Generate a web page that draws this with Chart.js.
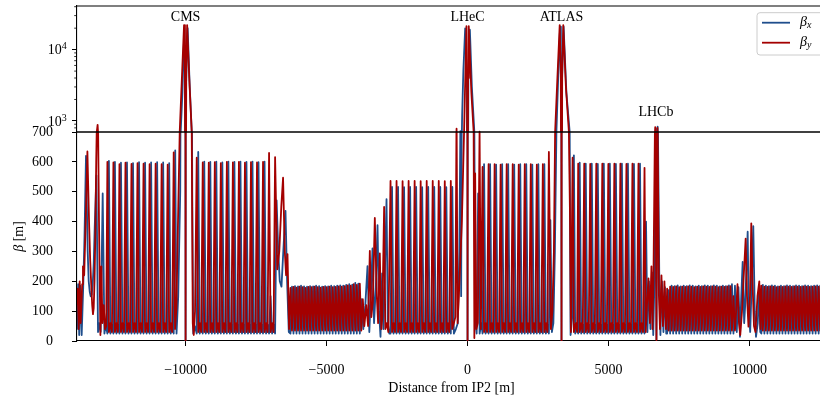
<!DOCTYPE html>
<html>
<head>
<meta charset="utf-8">
<script src="https://cdn.jsdelivr.net/npm/chart.js@4.4.1/dist/chart.umd.min.js"></script>
<style>
html, body { margin: 0; padding: 0; overflow: hidden; background: #fff; }
#wrap { width: 832px; height: 398px; }
</style>
</head>
<body>
<div id="wrap"><canvas id="chart_beta" width="832" height="398"></canvas></div>
<script>
var HALF_CELL = 53.45   // m, half of an arc FODO cell

// arcs with beta-beating: s of the first beta_y spike [m] and spike heights [m]
var arc_start = [-12773, -9605, -2732, 532, 3924]
var arc_peak_x = [
    [603, 600, 597, 598, 596, 599, 597, 598, 599, 598, 596, 638],
    [633, 601, 600, 601, 598, 601, 600, 601, 600, 601, 599, 601, 150, 471],
    [516, 516, 515, 516, 516, 515, 516, 516, 516, 515, 516],
    [592, 592, 591, 592, 592, 591, 592, 592, 591, 592, 592, 405],
    [597, 594, 594, 593, 594, 594, 593, 594, 594, 593, 594, 400]
]
var arc_peak_y = [
    [600, 598, 592, 597, 593, 596, 594, 592, 594, 592, 591, 632],
    [614, 598, 597, 599, 596, 600, 598, 600, 597, 599, 598, 600, 630, 616],
    [536, 536, 535, 536, 536, 535, 536, 536, 536, 535, 536],
    [583, 592, 592, 591, 592, 592, 591, 592, 592, 591, 592, 633],
    [594, 594, 593, 594, 594, 593, 594, 594, 593, 594, 594, 580]
]
var arc_low_x = [25, 55]   // trough, small bump between spikes
var arc_low_y = [30, 60]

// regular arcs: s of the first cell [m] and peak per cell [m]
var fodo_start = [-6280, 7078, 10420]
var fodo_peak_x = [
    [182, 184, 183, 185, 183, 182, 184, 183, 185, 184, 182, 184, 183, 185, 184, 185, 186, 185, 188, 190, 189, 195, 192, 140],
    [170, 185, 184, 186, 183, 185, 184, 186, 185, 183, 185, 184, 186, 185, 184, 186, 185, 183, 185, 184, 186, 190, 185],
    [188, 185, 184, 186, 185, 183, 185, 184, 186, 185, 184, 186, 185, 184, 186, 185, 184, 185, 186, 185, 184, 186, 185]
]
var fodo_peak_y = [
    [178, 181, 179, 182, 180, 178, 181, 180, 182, 180, 179, 181, 180, 182, 180, 181, 183, 182, 184, 186, 185, 190, 188, 192],
    [175, 182, 181, 183, 180, 182, 181, 183, 182, 180, 182, 181, 183, 182, 181, 183, 182, 180, 182, 181, 183, 184, 150],
    [185, 182, 181, 183, 182, 180, 182, 181, 183, 182, 181, 183, 182, 181, 183, 182, 181, 182, 183, 182, 181, 183, 182]
]
var fodo_trough_x = 25
var fodo_trough_y = 35

// insertion regions, [s, beta]
var ir_x = [
    [-13900, 60], [-13851, 40], [-13809, 190], [-13773, 20], [-13738, 185], [-13685, 20], [-13631, 180],
    [-13585, 350], [-13532, 620], [-13500, 450], [-13472, 300], [-13436, 200], [-13400, 165], [-13365, 150],
    [-13330, 155], [-13294, 190], [-13258, 260], [-13223, 380], [-13188, 480], [-13163, 555], [-13106, 30],
    [-13064, 60], [-13011, 30], [-12940, 494], [-12879, 25], [-12833, 55],
    [-10321, 25], [-10261, 150], [-10190, 500], [-10112, 2500], [-10044, 20000], [-10019, 3500], [-10000, 0.5],
    [-9981, 3500], [-9927, 20000], [-9853, 3000], [-9764, 500], [-9729, 25], [-9675, 50],
    [-6713, 300], [-6660, 200], [-6599, 182], [-6535, 300], [-6457, 436], [-6400, 200], [-6340, 30],
    [-3697, 40], [-3626, 120], [-3548, 251], [-3484, 30], [-3431, 150], [-3371, 310], [-3317, 60], [-3253, 180],
    [-3193, 388], [-3140, 100], [-3087, 14], [-3030, 226], [-2984, 40], [-2927, 250], [-2874, 475], [-2828, 60],
    [-2775, 25],
    [-486, 25], [-415, 40], [-344, 60], [-291, 300], [-255, 720], [-227, 150], [-192, 1200], [-149, 5000],
    [-85, 19800], [-28, 4000], [0, 0.5], [28, 4000], [82, 19000], [153, 3000], [241, 700], [277, 60], [323, 25],
    [376, 494], [429, 25], [490, 60],
    [2991, 30], [3044, 60], [3097, 300], [3151, 700], [3222, 5000], [3282, 21000], [3310, 4000], [3332, 0.5],
    [3353, 4000], [3406, 21000], [3505, 2500], [3622, 700], [3654, 20], [3711, 80], [3771, 622], [3818, 25],
    [3871, 55],
    [6379, 30], [6432, 200], [6486, 40], [6539, 230], [6585, 20], [6628, 200], [6674, 780], [6699, 5],
    [6741, 830], [6798, 230], [6840, 20], [6894, 200], [6947, 30], [7000, 180], [7046, 25],
    [9548, 30], [9608, 180], [9661, 14], [9707, 150], [9757, 265], [9810, 60], [9846, 120], [9934, 366],
    [9973, 100], [10023, 30], [10080, 200], [10133, 385], [10186, 100], [10229, 14], [10292, 60], [10335, 180],
    [10381, 30]
]
var ir_y = [
    [-13900, 100], [-13851, 150], [-13827, 175], [-13791, 40], [-13756, 200], [-13720, 60], [-13667, 190],
    [-13639, 250], [-13596, 220], [-13543, 400], [-13482, 635], [-13454, 520], [-13418, 380], [-13383, 270],
    [-13347, 190], [-13312, 120], [-13284, 90], [-13259, 110], [-13230, 200], [-13202, 350], [-13170, 600],
    [-13120, 880], [-13071, 400], [-13021, 20], [-12986, 250], [-12950, 60], [-12904, 120], [-12858, 40],
    [-12815, 50],
    [-10374, 40], [-10325, 110], [-10268, 405], [-10208, 700], [-10137, 3500], [-10055, 22100], [-10023, 4500],
    [-10000, 0.5], [-9977, 4500], [-9945, 22100], [-9870, 4000], [-9782, 700], [-9746, 60], [-9711, 20],
    [-9665, 100],
    [-6748, 240], [-6677, 300], [-6606, 450], [-6543, 547], [-6482, 300], [-6436, 220], [-6386, 291], [-6330, 40],
    [-3715, 140], [-3662, 50], [-3591, 120], [-3527, 50], [-3466, 302], [-3413, 80], [-3360, 130], [-3289, 412],
    [-3218, 150], [-3172, 60], [-3112, 293], [-3058, 40], [-3023, 80], [-2959, 449], [-2916, 40], [-2863, 60],
    [-2810, 30],
    [-546, 40], [-486, 60], [-433, 80], [-390, 780], [-355, 60], [-309, 150], [-202, 400], [-124, 700],
    [-39, 21300], [-18, 4000], [0, 0.5], [18, 4000], [43, 21300], [135, 2500], [216, 700], [241, 10], [270, 561],
    [312, 40], [365, 60], [426, 706], [472, 40],
    [2955, 40], [3009, 100], [3062, 300], [3105, 700], [3186, 4000], [3268, 22100], [3307, 4500], [3332, 0.5],
    [3356, 4500], [3395, 22100], [3488, 3000], [3594, 700], [3630, 438], [3665, 30], [3725, 614], [3771, 30],
    [3842, 60], [3885, 30],
    [6319, 30], [6362, 120], [6415, 210], [6468, 60], [6521, 250], [6557, 40], [6592, 200], [6656, 820],
    [6699, 3], [6734, 800], [6787, 150], [6823, 40], [6876, 220], [6929, 50], [6982, 200], [7036, 40],
    [9537, 120], [9573, 190], [9626, 60], [9672, 20], [9733, 100], [9796, 220], [9863, 343], [9910, 150],
    [9963, 48], [10016, 150], [10062, 394], [10105, 200], [10158, 50], [10211, 30], [10282, 150], [10346, 200],
    [10389, 40]
]

var ip_names = ['CMS', 'LHeC', 'ATLAS', 'LHCb']
var ip_s = [-10000, 0, 3332, 6680]
var ip_label_beta = [28600, 28600, 28600, 1340]

var x_ticks = [-10000, -5000, 0, 5000, 10000]
var log_major = [1000, 10000]
var log_minor = [800, 900, 2000, 3000, 4000, 5000, 6000, 7000, 8000, 9000, 20000, 30000, 40000]
var legend_subs = ['x', 'y']

var COLOR_X = '#1f4e8c'
var COLOR_Y = '#a40000'
var FONT = '"Liberation Serif", "Times New Roman", serif'

function beta_points(plane) {
    var h = HALF_CELL
    var pts = []
    var arc_peak = plane == 'x' ? arc_peak_x : arc_peak_y
    var arc_low = plane == 'x' ? arc_low_x : arc_low_y
    arc_start.forEach(function (s0, a) {
        var n = arc_peak[a].length
        arc_peak[a].forEach(function (peak, k) {
            var s = s0 + 4 * h * k
            var last = (k == n - 1)
            if (plane == 'x') {
                pts.push({x: s, y: arc_low[0]}, {x: s + h, y: peak})
                if (!last) pts.push({x: s + 2 * h, y: arc_low[0]}, {x: s + 3 * h, y: arc_low[1]})
            } else {
                pts.push({x: s, y: peak})
                if (!last) pts.push({x: s + h, y: arc_low[0]}, {x: s + 2 * h, y: arc_low[1]}, {x: s + 3 * h, y: arc_low[0]})
            }
        })
    })
    var fodo_peak = plane == 'x' ? fodo_peak_x : fodo_peak_y
    var trough = plane == 'x' ? fodo_trough_x : fodo_trough_y
    fodo_start.forEach(function (s0, a) {
        fodo_peak[a].forEach(function (peak, j) {
            var s = s0 + 2 * h * j
            if (plane == 'x') {
                pts.push({x: s, y: trough}, {x: s + h, y: peak})
            } else {
                pts.push({x: s, y: peak}, {x: s + h, y: trough})
            }
        })
    })
    var ir = plane == 'x' ? ir_x : ir_y
    ir.forEach(function (p) {
        pts.push({x: p[0], y: p[1]})
    })
    pts.sort(function (a, b) { return a.x - b.x })
    return pts
}

var pts_x = beta_points('x')
var pts_y = beta_points('y')

function copy(pts) {
    return pts.map(function (p) { return {x: p.x, y: p.y} })
}

// no extra room for tick labels that hang over the scale ends
function fit_scale(scale, size) {
    if (scale.isHorizontal()) {
        scale.height = size
    } else {
        scale.width = size
    }
    scale.paddingTop = 0
    scale.paddingBottom = 0
    scale.paddingLeft = 0
    scale.paddingRight = 0
}

// each panel of the broken axis only shows its own part of the curves
var beta_layers = {
    id: 'beta_layers',
    beforeDatasetDraw: function (chart, args) {
        var area = chart.chartArea
        var scale = chart.scales[args.meta.yAxisID]
        var ctx = chart.ctx
        ctx.save()
        ctx.beginPath()
        ctx.rect(area.left, scale.top, area.right - area.left, scale.bottom - scale.top)
        ctx.clip()
    },
    afterDatasetDraw: function (chart) {
        chart.ctx.restore()
    },
    afterDatasetsDraw: function (chart) {
        var ctx = chart.ctx
        var area = chart.chartArea
        var xs = chart.scales.x
        var y_lin = chart.scales.yLin
        var y_log = chart.scales.yLog
        ctx.save()

        ctx.strokeStyle = '#000'
        ctx.lineWidth = 1.1
        ctx.beginPath()
        ctx.moveTo(area.left, area.top)
        ctx.lineTo(area.right, area.top)
        ctx.lineTo(area.right, area.bottom)
        ctx.stroke()
        ctx.lineWidth = 1.4
        ctx.beginPath()
        ctx.moveTo(area.left, y_lin.top)
        ctx.lineTo(area.right, y_lin.top)
        ctx.stroke()

        ctx.lineWidth = 0.8
        ctx.beginPath()
        log_minor.forEach(function (v) {
            var y = y_log.getPixelForValue(v)
            ctx.moveTo(area.left - 2.8, y)
            ctx.lineTo(area.left, y)
        })
        ctx.stroke()

        ctx.fillStyle = '#000'
        ctx.textAlign = 'right'
        ctx.textBaseline = 'alphabetic'
        log_major.forEach(function (v) {
            var y = y_log.getPixelForValue(v)
            var exp = String(Math.round(Math.log10(v)))
            ctx.font = '10px ' + FONT
            var ew = ctx.measureText(exp).width
            ctx.fillText(exp, area.left - 10.3, y - 0.3)
            ctx.font = '14px ' + FONT
            ctx.fillText('10', area.left - 10.3 - ew, y + 4.8)
        })

        // y title
        ctx.save()
        ctx.translate(19, (y_lin.top + y_lin.bottom) / 2)
        ctx.rotate(-Math.PI / 2)
        ctx.textBaseline = 'middle'
        ctx.textAlign = 'left'
        ctx.font = 'italic 14px ' + FONT
        var wb = ctx.measureText('β').width
        ctx.font = '14px ' + FONT
        var wr = ctx.measureText(' [m]').width
        var x0 = -(wb + wr) / 2
        ctx.font = 'italic 14px ' + FONT
        ctx.fillText('β', x0, 0)
        ctx.font = '14px ' + FONT
        ctx.fillText(' [m]', x0 + wb, 0)
        ctx.restore()

        // interaction point names
        ctx.font = '14px ' + FONT
        ctx.textAlign = 'center'
        ctx.textBaseline = 'middle'
        ip_names.forEach(function (name, i) {
            ctx.fillText(name, xs.getPixelForValue(ip_s[i]), y_log.getPixelForValue(ip_label_beta[i]))
        })

        // legend
        var bx = 757, by = 12.7
        ctx.fillStyle = 'rgba(255,255,255,0.8)'
        ctx.strokeStyle = '#cccccc'
        ctx.lineWidth = 1
        ctx.beginPath()
        ctx.roundRect(bx, by, 80, 42.3, 3)
        ctx.fill()
        ctx.stroke()
        legend_subs.forEach(function (sub, i) {
            var ly = by + 10 + 20 * i
            ctx.strokeStyle = i == 0 ? COLOR_X : COLOR_Y
            ctx.lineWidth = 1.8
            ctx.beginPath()
            ctx.moveTo(bx + 5, ly)
            ctx.lineTo(bx + 33, ly)
            ctx.stroke()
            ctx.fillStyle = '#000'
            ctx.textAlign = 'left'
            ctx.textBaseline = 'alphabetic'
            ctx.font = 'italic 14px ' + FONT
            ctx.fillText('β', bx + 43, ly + 3.4)
            var w = ctx.measureText('β').width
            ctx.font = 'italic 10px ' + FONT
            ctx.fillText(sub, bx + 43 + w, ly + 5.6)
        })
        ctx.restore()
    }
}

function line_set(pts, axis, color, order) {
    return {
        data: copy(pts),
        yAxisID: axis,
        borderColor: color,
        backgroundColor: color,
        borderWidth: 1.8,
        borderJoinStyle: 'round',
        pointRadius: 0,
        tension: 0,
        fill: false,
        order: order
    }
}

var chart_beta = new Chart(document.getElementById('chart_beta'), {
    type: 'line',
    data: {
        datasets: [
            line_set(pts_y, 'yLin', COLOR_Y, 0),
            line_set(pts_y, 'yLog', COLOR_Y, 0),
            line_set(pts_x, 'yLin', COLOR_X, 1),
            line_set(pts_x, 'yLog', COLOR_X, 1)
        ]
    },
    options: {
        responsive: false,
        animation: false,
        devicePixelRatio: 1,
        events: [],
        layout: {
            padding: {left: 0, top: 6, right: 6, bottom: 0}
        },
        plugins: {
            legend: {display: false},
            tooltip: {enabled: false}
        },
        scales: {
            x: {
                type: 'linear',
                min: -13851,
                max: 12712,
                afterBuildTicks: function (scale) {
                    scale.ticks = x_ticks.map(function (v) { return {value: v} })
                },
                afterFit: function (scale) {
                    fit_scale(scale, 57)
                },
                grid: {drawOnChartArea: false, tickLength: 5, color: '#000', lineWidth: 1},
                border: {color: '#000', width: 1.1},
                ticks: {
                    color: '#000',
                    font: {family: FONT, size: 14},
                    padding: 16,
                    maxRotation: 0,
                    autoSkip: false,
                    callback: function (value) {
                        return value < 0 ? '\u2212' + Math.abs(value) : String(value)
                    }
                },
                title: {
                    display: true,
                    text: 'Distance from IP2 [m]',
                    color: '#000',
                    font: {family: FONT, size: 14},
                    padding: {top: 0, bottom: 1}
                }
            },
            yLin: {
                type: 'linear',
                position: 'left',
                stack: 'beta',
                stackWeight: 209,
                min: 0,
                max: 700,
                afterFit: function (scale) {
                    fit_scale(scale, 77)
                },
                grid: {drawOnChartArea: false, tickLength: 5, color: '#000', lineWidth: 1},
                border: {color: '#000', width: 1.1},
                ticks: {
                    stepSize: 100,
                    autoSkip: false,
                    color: '#000',
                    font: {family: FONT, size: 14},
                    padding: 19
                }
            },
            yLog: {
                type: 'logarithmic',
                position: 'left',
                stack: 'beta',
                stackWeight: 126,
                min: 700,
                max: 40900,
                afterBuildTicks: function (scale) {
                    scale.ticks = log_major.map(function (v) { return {value: v} })
                },
                afterFit: function (scale) {
                    fit_scale(scale, 77)
                },
                grid: {drawOnChartArea: false, tickLength: 5, color: '#000', lineWidth: 1},
                border: {color: '#000', width: 1.1},
                ticks: {display: false}
            }
        }
    },
    plugins: [beta_layers]
})
</script>
</body>
</html>
